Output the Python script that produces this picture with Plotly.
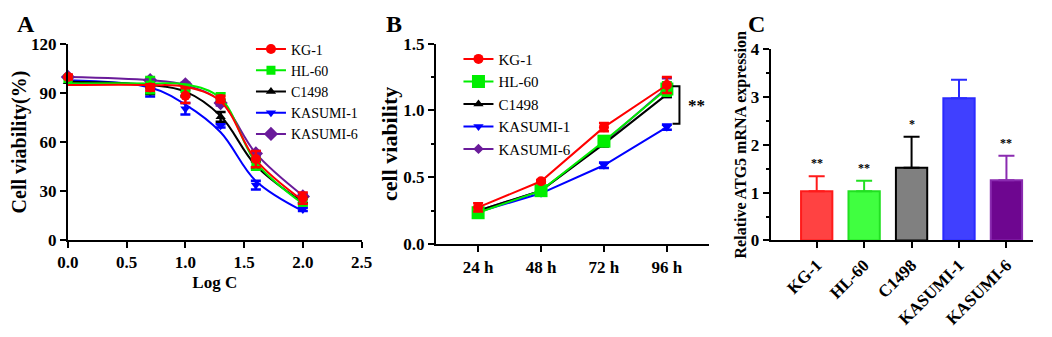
import plotly.graph_objects as go

FONT = "Liberation Serif"

# ---------------- Panel A data ----------------
logc = [0.0, 0.7, 1.0, 1.3, 1.6, 2.0]
a_kg1 = [100, 93.5, 88.5, 86.5, 49.5, 25.5]
a_kg1_err = [1.5, 2.0, 4.5, 2.0, 5.0, 3.5]
a_hl60 = [99, 95, 93, 88, 46.5, 23]
a_hl60_err = [1.0, 5.0, 2.0, 2.0, 3.5, 2.0]
a_c1498 = [97, 91.5, 90, 75.5, 46, 24]
a_c1498_err = [1.0, 2.0, 2.0, 3.0, 2.0, 1.5]
a_kas1 = [98, 91, 80.5, 70, 33.5, 18.5]
a_kas1_err = [1.0, 3.0, 3.5, 1.0, 2.7, 1.0]
a_kas6 = [100, 98, 95.5, 84, 53, 26.5]
a_kas6_err = [1.0, 1.0, 1.0, 1.5, 1.5, 1.5]
# fitted curves (values at the same doses)
fit_kg1 = [95, 95, 94, 85, 49, 24]
fit_hl60 = [96, 96, 95.5, 87, 47.5, 22]
fit_c1498 = [97, 95, 91, 76, 45.5, 23]
fit_kas1 = [98, 93.5, 83, 66, 36, 17.5]
fit_kas6 = [100, 98, 95, 85, 53, 27]

# ---------------- Panel B data ----------------
times = ["24 h", "48 h", "72 h", "96 h"]
b_kg1 = [0.275, 0.47, 0.875, 1.19]
b_kg1_err = [0.03, 0.01, 0.03, 0.06]
b_hl60 = [0.235, 0.40, 0.77, 1.16]
b_hl60_err = [0.01, 0.02, 0.03, 0.05]
b_c1498 = [0.25, 0.40, 0.75, 1.12]
b_c1498_err = [0.01, 0.01, 0.02, 0.02]
b_kas1 = [0.24, 0.38, 0.59, 0.875]
b_kas1_err = [0.01, 0.01, 0.02, 0.02]
b_kas6 = [0.25, 0.40, 0.76, 1.17]
b_kas6_err = [0.01, 0.01, 0.02, 0.07]
bracket_y = [1.18, 0.90]
bracket_label = "**"

# ---------------- Panel C data ----------------
cells = ["KG-1", "HL-60", "C1498", "KASUMI-1", "KASUMI-6"]
atg5 = [1.03, 1.03, 1.52, 2.97, 1.26]
atg5_err = [0.31, 0.22, 0.65, 0.39, 0.51]
sig = ["**", "**", "*", "", "**"]

# ---------------- styles ----------------
names = ["KG-1", "HL-60", "C1498", "KASUMI-1", "KASUMI-6"]
line_colors = ["#ff0000", "#00ee00", "#000000", "#0000ff", "#6a1b9a"]
bar_fill = ["#ff4242", "#40ff40", "#808080", "#4040ff", "#6e0690"]
bar_line = ["#ff1a1a", "#22e022", "#000000", "#2a2aff", "#8a2bb0"]
symbols = ["circle", "square", "triangle-up", "triangle-down", "diamond"]
a_sizes = [10, 9, 9, 9, 11]
b_sizes = [10, 13, 9, 9, 8]
ranks = [1, 2, 3, 4, 5]

a_means = [a_kg1, a_hl60, a_c1498, a_kas1, a_kas6]
a_errs = [a_kg1_err, a_hl60_err, a_c1498_err, a_kas1_err, a_kas6_err]
a_fits = [fit_kg1, fit_hl60, fit_c1498, fit_kas1, fit_kas6]
b_means = [b_kg1, b_hl60, b_c1498, b_kas1, b_kas6]
b_errs = [b_kg1_err, b_hl60_err, b_c1498_err, b_kas1_err, b_kas6_err]

# figure sized so that figure + default 8px page margin fills the 1052x337 window
OX, OY = 8, 8
W, H = 1052 - 2 * OX, 337 - 2 * OY


def px(s):
    return min(1.0, max(0.0, (s - OX) / W))


def py(s):
    return min(1.0, max(0.0, 1 - (s - OY) / H))


fig = go.Figure()

draw_order = [4, 3, 2, 1, 0]  # red drawn on top

# Panel A
for i in draw_order:
    c = line_colors[i]
    fig.add_trace(go.Scatter(
        x=logc, y=a_fits[i], mode="lines", line=dict(color=c, width=2, shape="spline", smoothing=1.0),
        showlegend=False, xaxis="x", yaxis="y", cliponaxis=False, hoverinfo="skip"))
    fig.add_trace(go.Scatter(
        x=logc, y=a_means[i], mode="markers",
        marker=dict(symbol=symbols[i], size=a_sizes[i], color=c),
        error_y=dict(type="data", array=a_errs[i], color=c, thickness=2.5, width=5),
        showlegend=False, xaxis="x", yaxis="y", cliponaxis=False, name=names[i]))
for i in range(5):
    c = line_colors[i]
    fig.add_trace(go.Scatter(
        x=[None], y=[None], mode="lines+markers", name=names[i],
        line=dict(color=c, width=2), marker=dict(symbol=symbols[i], size=a_sizes[i], color=c),
        legend="legend", xaxis="x", yaxis="y", legendrank=ranks[i]))

# Panel B
for i in draw_order:
    c = line_colors[i]
    fig.add_trace(go.Scatter(
        x=times, y=b_means[i], mode="lines+markers", name=names[i],
        line=dict(color=c, width=2),
        marker=dict(symbol=symbols[i], size=b_sizes[i], color=c),
        error_y=dict(type="data", array=b_errs[i], color=c, thickness=2.5, width=5),
        legend="legend2", legendrank=ranks[i], xaxis="x2", yaxis="y2", cliponaxis=False))

# Panel C
for i in range(5):
    fig.add_trace(go.Bar(
        x=[cells[i]], y=[atg5[i]], width=0.66,
        marker=dict(color=bar_fill[i], line=dict(color=bar_line[i], width=2)),
        error_y=dict(type="data", symmetric=False, array=[atg5_err[i]], arrayminus=[0],
                     color=bar_line[i], thickness=2, width=8),
        showlegend=False, xaxis="x3", yaxis="y3", name=cells[i]))

axis_common = dict(
    showline=True, linewidth=2, linecolor="black", ticks="outside", ticklen=6,
    tickwidth=2, tickcolor="black", showgrid=False, zeroline=False,
    tickfont=dict(family=FONT, size=17, color="black", weight="bold"),
)

annotations = []
for i in range(5):
    if sig[i]:
        annotations.append(dict(
            x=cells[i], y=atg5[i] + atg5_err[i], xref="x3", yref="y3", text=sig[i],
            showarrow=False, yanchor="bottom", yshift=4,
            font=dict(family=FONT, size=12, color="#000000", weight="bold")))

annotations.append(dict(
    x=3.3, y=(bracket_y[0] + bracket_y[1]) / 2, xref="x2", yref="y2", text=bracket_label,
    showarrow=False, xanchor="left", font=dict(family=FONT, size=17, color="black", weight="bold")))

for lbl, xs in [("A", 15), ("B", 391), ("C", 761)]:
    annotations.append(dict(
        x=px(xs), y=py(16), xref="paper", yref="paper", text=lbl, showarrow=False,
        xanchor="center", yanchor="middle",
        font=dict(family=FONT, size=24, color="black", weight="bold")))

shapes = [dict(
    type="path", xref="x2", yref="y2",
    path=f"M 3.09 {bracket_y[0]} L 3.2 {bracket_y[0]} L 3.2 {bracket_y[1]} L 3.09 {bracket_y[1]}",
    line=dict(color="black", width=2))]

fig.update_layout(
    width=W, height=H, margin=dict(l=0, r=0, t=0, b=0),
    paper_bgcolor="white", plot_bgcolor="white",
    font=dict(family=FONT, color="black"),
    barmode="overlay",
    xaxis=dict(axis_common, domain=[px(58), px(358)], range=[0, 2.5], dtick=0.5,
               tickformat=".1f", anchor="y",
               title=dict(text="Log C", standoff=5,
                          font=dict(family=FONT, size=17, color="black", weight="bold"))),
    yaxis=dict(axis_common, domain=[py(251), py(38)], range=[0, 120], dtick=30, anchor="x",
               title=dict(text="Cell viability(%)", standoff=0,
                          font=dict(family=FONT, size=20, color="black", weight="bold"))),
    xaxis2=dict(axis_common, domain=[px(434), px(713)], range=[-0.67, 3.67],
                type="category", anchor="y2"),
    yaxis2=dict(axis_common, domain=[py(256), py(37)], range=[0, 1.5], dtick=0.5,
                tickformat=".1f", anchor="x2",
                minor=dict(dtick=0.25, ticks="outside", ticklen=3, tickwidth=2, tickcolor="black"),
                title=dict(text="cell viability", standoff=0,
                           font=dict(family=FONT, size=22, color="black", weight="bold"))),
    xaxis3=dict(axis_common, domain=[px(776), px(1044)], range=[-0.97, 4.56],
                type="category", anchor="y3", tickangle=-45),
    yaxis3=dict(axis_common, domain=[py(252), py(43)], range=[0, 4], dtick=1, anchor="x3",
                minor=dict(dtick=0.5, ticks="outside", ticklen=3, tickwidth=2, tickcolor="black"),
                title=dict(text="Relative ATG5 mRNA expression", standoff=0,
                           font=dict(family=FONT, size=16, color="black", weight="bold"))),
    legend=dict(x=px(245), y=py(26), xanchor="left", yanchor="top",
                bgcolor="rgba(0,0,0,0)", font=dict(family=FONT, size=14, color="black"),
                tracegroupgap=0),
    legend2=dict(x=px(457), y=py(36), xanchor="left", yanchor="top",
                 bgcolor="rgba(0,0,0,0)", font=dict(family=FONT, size=15, color="black"),
                 tracegroupgap=0),
    annotations=annotations,
    shapes=shapes,
)

fig.write_html("out.html")
